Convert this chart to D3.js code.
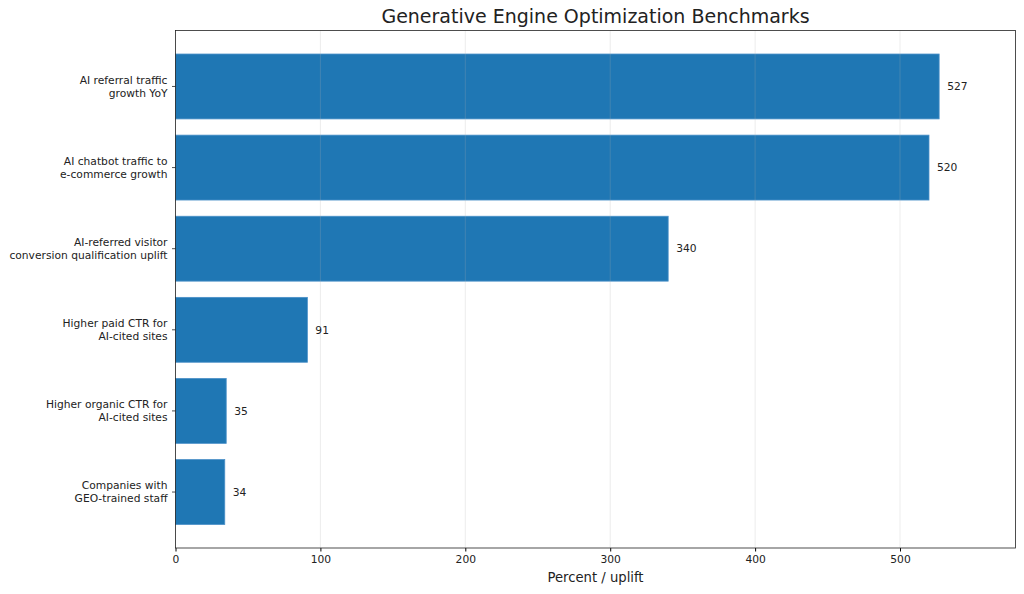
<!DOCTYPE html>
<html>
<head>
<meta charset="utf-8">
<script src="https://cdn.jsdelivr.net/npm/d3@7"></script>
<style>
  body { margin: 0; background: #fff; }
  text { font-family: "DejaVu Sans", sans-serif; fill: #222; }
</style>
</head>
<body>
<script>
// Categories (top to bottom) and values
const categories = [
    "AI referral traffic\ngrowth YoY",
    "AI chatbot traffic to\ne-commerce growth",
    "AI-referred visitor\nconversion qualification uplift",
    "Higher paid CTR for\nAI-cited sites",
    "Higher organic CTR for\nAI-cited sites",
    "Companies with\nGEO-trained staff"
];
const values = [527, 520, 340, 91, 35, 34];
const xTicks = [0, 100, 200, 300, 400, 500];

const chartData = categories.map((c, i) => ({ category: c, value: values[i] }));

const width = 1024, height = 594;
const margin = { top: 30.5, right: 8.5, bottom: 46, left: 175.5 };

const svg = d3.select("body")
    .append("svg")
    .attr("width", width)
    .attr("height", height);

// matplotlib-style x limits: a bit past the largest bar
const x = d3.scaleLinear()
    .domain([0, d3.max(values) * 1.1])
    .range([margin.left, width - margin.right]);

// category index scale with matplotlib margins (-0.69 .. 5.69)
const y = d3.scaleLinear()
    .domain([-0.69, categories.length - 1 + 0.69])
    .range([margin.top, height - margin.bottom]);

const barH = y(0.4) - y(-0.4);

// Bars
svg.selectAll("rect.bar")
    .data(chartData)
    .enter()
    .append("rect")
    .attr("class", "bar")
    .attr("x", x(0))
    .attr("y", (d, i) => y(i) - barH / 2)
    .attr("width", d => x(d.value) - x(0))
    .attr("height", barH)
    .attr("fill", "#1f77b4")
    .attr("stroke", "#4a90c8")
    .attr("stroke-width", 0.8);

// Grid lines (drawn over the bars, faint)
svg.append("g")
    .selectAll("line")
    .data(xTicks)
    .enter()
    .append("line")
    .attr("x1", d => x(d)).attr("x2", d => x(d))
    .attr("y1", margin.top).attr("y2", height - margin.bottom)
    .attr("stroke", "#b0b0b0")
    .attr("stroke-opacity", 0.3)
    .attr("stroke-width", 0.8);

// Value labels
svg.selectAll("text.val")
    .data(chartData)
    .enter()
    .append("text")
    .attr("class", "val")
    .attr("x", d => x(d.value) + 8)
    .attr("y", (d, i) => y(i))
    .attr("dy", "0.35em")
    .attr("font-size", "10.7px")
    .text(d => d.value);

// X axis
const xAxis = svg.append("g")
    .attr("transform", `translate(0,${height - margin.bottom})`)
    .call(d3.axisBottom(x).tickValues(xTicks).tickSize(3.5).tickPadding(3.5));
xAxis.selectAll("text").attr("font-size", "10.7px").style("font-family", "DejaVu Sans, sans-serif").attr("fill", "#222");
xAxis.select(".domain").remove();

// Y axis ticks + wrapped labels
const yAxis = svg.append("g");
chartData.forEach((d, i) => {
    const yy = y(i);
    yAxis.append("line")
        .attr("x1", margin.left - 3.5).attr("x2", margin.left)
        .attr("y1", yy).attr("y2", yy)
        .attr("stroke", "#222").attr("stroke-width", 0.8);
    const lines = d.category.split("\n");
    const t = yAxis.append("text")
        .attr("text-anchor", "end")
        .attr("font-size", "10.7px");
    lines.forEach((ln, k) => {
        t.append("tspan")
            .attr("x", margin.left - 8)
            .attr("y", yy + (k - (lines.length - 1) / 2) * 13)
            .attr("dy", "0.35em")
            .text(ln);
    });
});

// Frame
svg.append("rect")
    .attr("x", margin.left)
    .attr("y", margin.top)
    .attr("width", width - margin.right - margin.left)
    .attr("height", height - margin.bottom - margin.top)
    .attr("fill", "none")
    .attr("stroke", "#222")
    .attr("stroke-width", 0.8);

// Title and axis label
svg.append("text")
    .attr("x", (margin.left + width - margin.right) / 2)
    .attr("y", 23)
    .attr("text-anchor", "middle")
    .attr("font-size", "19px")
    .text("Generative Engine Optimization Benchmarks");

svg.append("text")
    .attr("x", (margin.left + width - margin.right) / 2)
    .attr("y", 582)
    .attr("text-anchor", "middle")
    .attr("font-size", "13.2px")
    .text("Percent / uplift");
</script>
</body>
</html>
